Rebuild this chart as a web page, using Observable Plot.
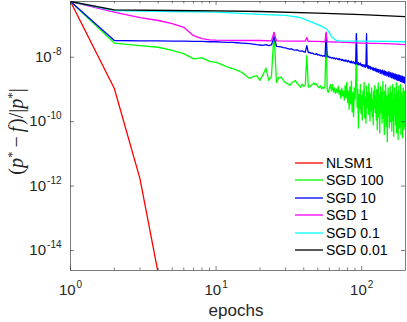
<!DOCTYPE html>
<html><head><meta charset="utf-8">
<script src="https://cdn.jsdelivr.net/npm/d3@7"></script>
<script src="https://cdn.jsdelivr.net/npm/@observablehq/plot@0.6"></script>
<style>
html,body{margin:0;padding:0;background:#fff;}
#wrap{position:relative;width:407px;height:322px;overflow:hidden;}
#legend{position:absolute;left:295px;top:154.3px;font-family:"Liberation Sans",Arial,sans-serif;font-size:14px;color:#000;}
.row{display:flex;align-items:center;height:17.4px;white-space:nowrap;}
.row svg{width:28px;height:4px;margin-right:3px;display:block;}
</style></head><body><div id="wrap"></div><script>
// ---- data (values stored as log10 exponents of (p*-f)/|p*|) ----
const seriesNames = ["NLSM1", "SGD 100", "SGD 10", "SGD 1", "SGD 0.1", "SGD 0.01"];
const seriesColors = ["#ff0000", "#00ff00", "#0000ff", "#ff00ff", "#00ffff", "#000000"];

const nlsmEpochs = [1, 2, 3, 4];
const nlsmExp = [-6.27, -8.97, -11.77, -14.70];

// SGD 100: epochs 1..200
const sgd100Exp = [
-6.27,-7.56,-7.64,-7.69,-7.79,-7.89,-8.05,-8.02,-8.13,-8.16,
-8.23,-8.31,-8.35,-8.41,-8.47,-8.57,-8.66,-8.60,-8.57,-8.72,
-8.54,-8.34,-8.72,-8.60,-7.23,-8.78,-8.63,-8.62,-8.72,-8.79,
-8.82,-8.88,-8.80,-8.76,-8.72,-8.81,-8.86,-8.93,-8.84,-8.90,
-8.86,-7.95,-8.92,-8.93,-8.87,-8.84,-8.80,-8.86,-8.83,-8.91,
-8.95,-8.88,-8.98,-8.93,-8.97,-8.90,-7.26,-9.02,-9.09,-8.98,
-8.85,-9.04,-8.84,-9.08,-8.95,-9.12,-8.99,-9.10,-8.90,-9.15,
-9.02,-9.28,-8.96,-9.20,-9.05,-9.33,-8.88,-9.25,-8.78,-9.40,
-9.05,-9.62,-8.92,-9.45,-8.74,-9.70,-9.10,-9.85,-8.95,-9.30,
-8.80,-7.26,-9.55,-9.00,-10.20,-9.15,-9.60,-8.85,-9.75,-9.20,
-9.95,-9.05,-9.48,-8.78,-9.88,-9.25,-10.05,-8.90,-9.55,-9.10,
-9.78,-8.82,-9.40,-9.98,-9.12,-9.65,-8.95,-9.85,-9.30,-10.10,
-9.05,-9.58,-8.88,-9.72,-9.20,-9.95,-9.00,-10.25,-9.35,-8.80,
-9.85,-9.15,-10.35,-9.45,-8.92,-9.70,-9.10,-10.05,-9.30,-8.75,
-9.90,-9.40,-10.40,-9.05,-9.62,-8.85,-10.15,-9.50,-9.20,-10.62,
-9.35,-8.95,-9.80,-9.15,-10.20,-9.40,-8.90,-10.00,-9.55,-9.10,
-10.30,-9.65,-8.85,-9.95,-9.30,-10.45,-9.50,-8.95,-9.80,-9.20,
-10.10,-9.60,-8.80,-10.35,-9.40,-9.90,-9.05,-10.55,-9.45,-8.90,
-9.75,-10.20,-9.25,-9.85,-8.85,-10.40,-9.55,-9.10,-10.00,-9.35,
-10.50,-9.20,-8.95,-9.90,-10.25,-9.40,-9.05,-10.15,-9.60,-9.30
];

// SGD 10: epochs 1..200
const sgd10Exp = [
-6.27,-7.48,-7.49,-7.49,-7.50,-7.50,-7.51,-7.51,-7.52,-7.52,
-7.53,-7.54,-7.54,-7.55,-7.56,-7.57,-7.58,-7.59,-7.61,-7.62,
-7.63,-7.61,-7.64,-7.62,-7.37,-7.66,-7.67,-7.68,-7.70,-7.71,
-7.73,-7.75,-7.74,-7.77,-7.78,-7.77,-7.80,-7.81,-7.80,-7.83,
-7.84,-7.64,-7.86,-7.85,-7.88,-7.87,-7.90,-7.91,-7.89,-7.93,
-7.92,-7.95,-7.94,-7.97,-7.95,-7.98,-7.27,-7.99,-7.97,-8.01,
-8.00,-8.03,-8.01,-8.04,-8.02,-8.06,-8.03,-8.05,-8.07,-8.04,
-8.08,-8.06,-8.10,-8.07,-8.11,-8.09,-8.13,-8.08,-8.12,-8.14,
-8.10,-8.15,-8.13,-8.17,-8.12,-8.18,-8.15,-8.14,-8.20,-8.16,
-8.21,-7.27,-8.19,-8.23,-8.17,-8.24,-8.21,-8.18,-8.26,-8.22,
-8.28,-8.23,-8.25,-8.30,-8.24,-8.31,-8.27,-7.27,-8.29,-8.33,
-8.26,-8.35,-8.30,-8.28,-8.37,-8.31,-8.36,-8.33,-8.39,-8.32,
-8.41,-8.35,-8.38,-8.43,-8.34,-8.40,-8.45,-8.37,-8.42,-8.47,
-8.38,-8.44,-8.41,-8.50,-8.39,-8.46,-8.43,-8.52,-8.40,-8.48,
-8.45,-8.54,-8.42,-8.49,-8.56,-8.44,-8.51,-8.47,-8.58,-8.46,
-8.53,-8.49,-8.60,-8.45,-8.55,-8.50,-8.62,-8.48,-8.57,-8.52,
-8.64,-8.49,-8.58,-8.54,-8.66,-8.51,-8.60,-8.55,-8.68,-8.52,
-8.61,-8.57,-8.70,-8.54,-8.63,-8.58,-8.72,-8.55,-8.64,-8.60,
-8.73,-8.56,-8.66,-8.61,-8.75,-8.58,-8.67,-8.62,-8.77,-8.59,
-8.69,-8.64,-8.78,-8.61,-8.70,-8.65,-8.80,-8.62,-8.71,-8.67
];

const sgd1Epochs = [1,2,3,4,5,6,7,8,9,10,15,20,24,25,26,35,41,42,43,50,56,57,58,70,100,150,200];
const sgd1Exp = [-6.27,-6.60,-6.77,-6.86,-6.96,-7.07,-7.33,-7.42,-7.46,-7.47,-7.48,-7.48,-7.49,-7.23,-7.49,-7.50,-7.50,-7.39,-7.51,-7.51,-7.52,-7.22,-7.52,-7.53,-7.56,-7.58,-7.61];

const sgd01Epochs = [1,2,5,10,20,30,38,44,52,58,63,67,70,100,150,200];
const sgd01Exp = [-6.27,-6.55,-6.58,-6.60,-6.67,-6.70,-6.77,-6.89,-7.02,-7.14,-7.39,-7.48,-7.49,-7.50,-7.51,-7.52];

const sgd001Epochs = [1,2,5,10,20,50,100,200];
const sgd001Exp = [-6.27,-6.53,-6.55,-6.56,-6.58,-6.63,-6.68,-6.74];

const xTickValues = [1, 10, 100];
const xMinorTickValues = [2,3,4,5,6,7,8,9,20,30,40,50,60,70,80,90];
const yTickValues = [1e-14, 1e-12, 1e-10, 1e-8];
const xDomain = [1, 200];
const yDomainExp = [-14.62, -6.27];
const yLabelParts = [["(", 0], ["p", 1], ["*", 2], ["\u2009\u2212\u2009", 0], ["f", 1], ["\u200a)/|", 0], ["p", 1], ["*", 2], ["|", 0]];
const xLabel = "epochs";

// ---- build table ----
const allEpochs = d3.range(1, sgd100Exp.length + 1);
const rows = [];
function add(name, eps, exps) { eps.forEach((e, i) => rows.push({name, epoch: e, value: Math.pow(10, exps[i])})); }
add("NLSM1", nlsmEpochs, nlsmExp);
add("SGD 100", allEpochs, sgd100Exp);
add("SGD 10", allEpochs, sgd10Exp);
add("SGD 1", sgd1Epochs, sgd1Exp);
add("SGD 0.1", sgd01Epochs, sgd01Exp);
add("SGD 0.01", sgd001Epochs, sgd001Exp);

const W = 407, H = 322, mL = 70, mR = 2, mT = 1, mB = 52;
const innerW = W - mL - mR, innerH = H - mT - mB;
const axisColor = "#262626";
const major = 4, minor = 2.5;
const expFmt = d => "10^" + Math.round(Math.log10(d));

const marks = [];
seriesNames.forEach((n, i) => {
  marks.push(Plot.line(rows.filter(r => r.name === n), {x: "epoch", y: "value", stroke: seriesColors[i], strokeWidth: 1.3, clip: true}));
});
marks.push(
  Plot.frame({stroke: axisColor, strokeWidth: 0.6}),
  Plot.tickX(xTickValues, {x: d => d, insetTop: innerH - major, stroke: axisColor, strokeWidth: 0.6}),
  Plot.tickX(xTickValues, {x: d => d, insetBottom: innerH - major, stroke: axisColor, strokeWidth: 0.6}),
  Plot.tickX(xMinorTickValues, {x: d => d, insetTop: innerH - minor, stroke: axisColor, strokeWidth: 0.6}),
  Plot.tickX(xMinorTickValues, {x: d => d, insetBottom: innerH - minor, stroke: axisColor, strokeWidth: 0.6}),
  Plot.tickY(yTickValues, {y: d => d, insetRight: innerW - major, stroke: axisColor, strokeWidth: 0.6}),
  Plot.tickY(yTickValues, {y: d => d, insetLeft: innerW - major, stroke: axisColor, strokeWidth: 0.6}),
  Plot.text(["YLABEL"], {frameAnchor: "left", textAnchor: "middle", lineAnchor: "middle", dx: -54, dy: -4.5, rotate: -90, fontSize: 20, fontFamily: "Liberation Serif, Times New Roman, serif", fill: axisColor}),
  Plot.text([xLabel], {frameAnchor: "bottom", dx: -2, dy: 45, fontSize: 17, fill: axisColor})
);

const chart = Plot.plot({
  width: W, height: H,
  marginLeft: mL, marginRight: mR, marginTop: mT, marginBottom: mB,
  style: {fontFamily: "Liberation Sans, Arial, sans-serif", fontSize: "15px", color: axisColor, background: "white"},
  x: {type: "log", domain: xDomain, ticks: xTickValues, tickFormat: expFmt, tickSize: 0, tickPadding: 14, label: null},
  y: {type: "log", domain: yDomainExp.map(e => Math.pow(10, e)), ticks: yTickValues, tickFormat: expFmt, tickSize: 0, tickPadding: 9, label: null},
  marks
});

// superscript exponents in tick labels, rich y label
const NS = "http://www.w3.org/2000/svg";
chart.querySelectorAll("text").forEach(t => {
  const m = /^10\^(-?\d+)$/.exec(t.textContent.trim());
  if (m) {
    t.textContent = "";
    const a = document.createElementNS(NS, "tspan"); a.textContent = "10"; t.appendChild(a);
    const b = document.createElementNS(NS, "tspan"); b.textContent = m[1];
    b.setAttribute("font-size", "10"); b.setAttribute("dy", "-7"); b.setAttribute("dx", "1");
    t.appendChild(b);
  } else if (t.textContent.trim() === "YLABEL") {
    t.textContent = "";
    let shift = 0;
    yLabelParts.forEach(([s, k]) => {
      const sp = document.createElementNS(NS, "tspan");
      sp.textContent = s;
      if (k === 1) sp.setAttribute("font-style", "italic");
      if (k === 2) { sp.setAttribute("font-size", "13"); sp.setAttribute("dy", "-7"); shift = 7; }
      else if (shift) { sp.setAttribute("dy", String(shift)); shift = 0; }
      t.appendChild(sp);
    });
  }
});

const wrap = document.getElementById("wrap");
wrap.appendChild(chart);

// legend
const leg = document.createElement("div");
leg.id = "legend";
seriesNames.forEach((n, i) => {
  const r = document.createElement("div"); r.className = "row";
  r.innerHTML = `<svg viewBox="0 0 28 4"><line x1="0" x2="28" y1="2" y2="2" stroke="${seriesColors[i]}" stroke-width="1.3"/></svg><span>${n}</span>`;
  leg.appendChild(r);
});
wrap.appendChild(leg);
</script></body></html>
